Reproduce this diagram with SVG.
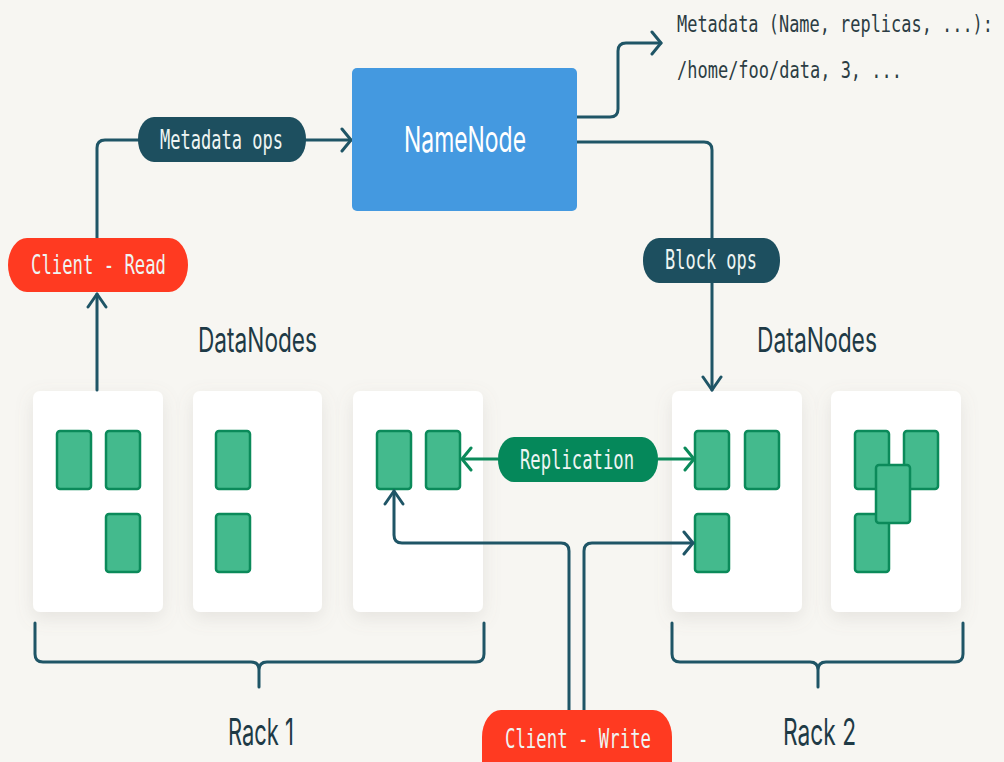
<svg xmlns="http://www.w3.org/2000/svg" width="1004" height="762" viewBox="0 0 1004 762">
<defs>
<style>
.bg{fill:#F7F6F2}
.rack{fill:#FFFFFF;filter:url(#sh)}
.blk{fill:#44BA8D;stroke:#0B8A5A;stroke-width:2.5}
.ln{fill:none;stroke:#1F5566;stroke-width:3;stroke-linejoin:round;stroke-linecap:round}
.gln{fill:none;stroke:#0B8A5A;stroke-width:3}
.pill-d{fill:#1D4F5F}
.pill-r{fill:#FF3A21}
.pill-g{fill:#05885A}
.mono{font-family:"DejaVu Sans Mono","Liberation Mono",monospace;font-size:26px;fill:#EEF5F3}
.meta{font-family:"DejaVu Sans Mono","Liberation Mono",monospace;font-size:17px;fill:#2C3D43}
.head{font-family:Inter,"Liberation Sans",sans-serif;font-size:34px;fill:#1E3A46}
.nn{font-family:Inter,"Liberation Sans",sans-serif;font-size:36px;fill:#FFFFFF}
</style>
<filter id="sh" x="-30%" y="-30%" width="160%" height="160%">
<feDropShadow dx="0" dy="6" stdDeviation="9" flood-color="#8a8478" flood-opacity="0.16"/>
</filter>
<marker id="ah" viewBox="-12 -13 14 26" markerWidth="14" markerHeight="26" refX="0" refY="0" orient="auto" markerUnits="userSpaceOnUse">
<path d="M-9,-11 L0,0 L-9,11" fill="none" stroke="#1F5566" stroke-width="3" stroke-linecap="round" stroke-linejoin="round"/>
</marker>
<marker id="av" viewBox="-15 -11 17 22" markerWidth="17" markerHeight="22" refX="0" refY="0" orient="auto" markerUnits="userSpaceOnUse">
<path d="M-13,-9 L0,0 L-13,9" fill="none" stroke="#1F5566" stroke-width="3" stroke-linecap="round" stroke-linejoin="round"/>
</marker>
<marker id="ag" viewBox="-12 -13 14 26" markerWidth="14" markerHeight="26" refX="0" refY="0" orient="auto" markerUnits="userSpaceOnUse">
<path d="M-9,-11 L0,0 L-9,11" fill="none" stroke="#0B8A5A" stroke-width="3" stroke-linecap="round" stroke-linejoin="round"/>
</marker>
</defs>
<rect class="bg" x="0" y="0" width="1004" height="762"/>

<g id="rack1-dn1">
<rect class="rack" x="33" y="391" width="130" height="221" rx="7"/>
<rect class="blk" x="57" y="431" width="34" height="58" rx="3"/>
<rect class="blk" x="106" y="431" width="34" height="58" rx="3"/>
<rect class="blk" x="106" y="514" width="34" height="58" rx="3"/>
</g>
<g id="rack1-dn2">
<rect class="rack" x="193" y="391" width="129" height="221" rx="7"/>
<rect class="blk" x="216" y="431" width="34" height="58" rx="3"/>
<rect class="blk" x="216" y="514" width="34" height="58" rx="3"/>
</g>
<g id="rack1-dn3">
<rect class="rack" x="353" y="391" width="130" height="221" rx="7"/>
<rect class="blk" x="377" y="431" width="34" height="58" rx="3"/>
<rect class="blk" x="426" y="431" width="34" height="58" rx="3"/>
</g>
<g id="rack2-dn1">
<rect class="rack" x="672" y="391" width="130" height="221" rx="7"/>
<rect class="blk" x="695" y="431" width="34" height="58" rx="3"/>
<rect class="blk" x="745" y="431" width="34" height="58" rx="3"/>
<rect class="blk" x="695" y="514" width="34" height="58" rx="3"/>
</g>
<g id="rack2-dn2">
<rect class="rack" x="831" y="391" width="130" height="221" rx="7"/>
<rect class="blk" x="855" y="431" width="34" height="58" rx="3"/>
<rect class="blk" x="904" y="431" width="34" height="58" rx="3"/>
<rect class="blk" x="855" y="514" width="34" height="58" rx="3"/>
<rect class="blk" x="876" y="465" width="34" height="58" rx="3"/>
</g>

<g id="connectors">
<path class="ln" d="M97,390 V294" marker-end="url(#av)"/>
<path class="ln" d="M97,238 V148 Q97,140 105,140 H138"/>
<path class="ln" d="M306,140 H351" marker-end="url(#ah)"/>
<path class="ln" d="M577,117 H610 Q618,117 618,109 V51 Q618,43 626,43 H661" marker-end="url(#ah)"/>
<path class="ln" d="M577,142 H704 Q712,142 712,150 V238"/>
<path class="ln" d="M712,282 V390" marker-end="url(#av)"/>
<path class="gln" d="M498,459 H462" marker-end="url(#ag)"/>
<path class="gln" d="M658,459 H694" marker-end="url(#ag)"/>
<path class="ln" d="M569,712 V551 Q569,543 561,543 H402 Q394,543 394,535 V491" marker-end="url(#av)"/>
<path class="ln" d="M584,712 V551 Q584,543 592,543 H693" marker-end="url(#ah)"/>
<path class="ln" d="M35,623 V654 Q35,662 43,662 H251 Q259,662 259,670 V687 M259,670 Q259,662 267,662 H476 Q484,662 484,654 V623"/>
<path class="ln" d="M672,623 V654 Q672,662 680,662 H810 Q818,662 818,670 V687 M818,670 Q818,662 826,662 H955 Q963,662 963,654 V623"/>
</g>

<g id="namenode">
<rect x="352" y="68" width="225" height="143" rx="5" fill="#4499E0"/>
<text class="nn" x="404" y="152" textLength="122" lengthAdjust="spacingAndGlyphs">NameNode</text>
</g>
<g id="metadata-ops">
<rect class="pill-d" x="138" y="117" width="168" height="45" rx="16" ry="22"/>
<text class="mono" x="160" y="149" textLength="123" lengthAdjust="spacingAndGlyphs">Metadata ops</text>
</g>
<g id="client-read">
<rect class="pill-r" x="8" y="238" width="180" height="54" rx="19" ry="27"/>
<text class="mono" x="31" y="274" textLength="135" lengthAdjust="spacingAndGlyphs">Client - Read</text>
</g>
<g id="block-ops">
<rect class="pill-d" x="643" y="238" width="137" height="45" rx="16" ry="22"/>
<text class="mono" x="665" y="269" textLength="92" lengthAdjust="spacingAndGlyphs">Block ops</text>
</g>
<g id="replication">
<rect class="pill-g" x="498" y="437" width="160" height="45" rx="16" ry="22"/>
<text class="mono" x="520" y="469" textLength="114" lengthAdjust="spacingAndGlyphs">Replication</text>
</g>
<g id="client-write">
<rect class="pill-r" x="482" y="710" width="190" height="80" rx="19" ry="27"/>
<text class="mono" x="505" y="748" textLength="146" lengthAdjust="spacingAndGlyphs">Client - Write</text>
</g>
<g id="metadata-note">
<text class="meta" transform="translate(677,32) scale(1,1.35)" x="0" y="0" textLength="316" lengthAdjust="spacingAndGlyphs">Metadata (Name, replicas, ...):</text>
<text class="meta" transform="translate(677,78) scale(1,1.35)" x="0" y="0" textLength="225" lengthAdjust="spacingAndGlyphs">/home/foo/data, 3, ...</text>
</g>
<g id="labels">
<text class="head" x="198" y="352" textLength="119" lengthAdjust="spacingAndGlyphs">DataNodes</text>
<text class="head" x="757" y="352" textLength="120" lengthAdjust="spacingAndGlyphs">DataNodes</text>
<text class="head" x="228" y="745" style="font-size:37px" textLength="66" lengthAdjust="spacingAndGlyphs">Rack 1</text>
<text class="head" x="783" y="745" style="font-size:37px" textLength="73" lengthAdjust="spacingAndGlyphs">Rack 2</text>
</g>
</svg>
